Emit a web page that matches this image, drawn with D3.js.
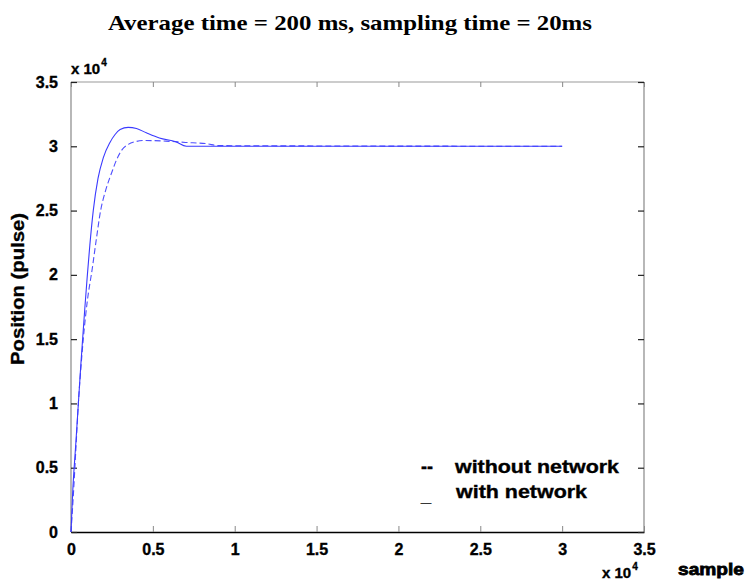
<!DOCTYPE html>
<html><head><meta charset="utf-8">
<script src="https://cdn.jsdelivr.net/npm/d3@7"></script>
<style>body{margin:0;background:#fff}svg{display:block}</style>
</head><body>
<svg id="c" width="746" height="586"></svg>
<script>
const titleText = "Average time = 200 ms, sampling time = 20ms";
const yLabel = "Position (pulse)";
const xLabel = "sample";
const legendLabels = ["without network", "with network"];
const legendMarks = ["--", "_"];
const xTicks = [0, 5000, 10000, 15000, 20000, 25000, 30000, 35000];
const yTicks = [0, 5000, 10000, 15000, 20000, 25000, 30000, 35000];
const tickLabels = ["0", "0.5", "1", "1.5", "2", "2.5", "3", "3.5"];

// with network (solid)
const withX = [0, 100, 300, 450, 600, 710, 850, 1000, 1150, 1360, 1650, 1970, 2380, 2680, 3000, 3490, 4000, 4600, 5400, 6400, 7050, 30000];
const withY = [0, 3000, 7000, 10000, 13000, 15000, 17500, 20000, 22300, 25000, 27500, 29100, 30300, 30900, 31300, 31470, 31380, 31050, 30650, 30350, 30000, 30000];
// without network (dashed)
const woX = [0, 150, 300, 450, 650, 750, 1000, 1300, 1550, 1810, 2100, 2500, 2800, 3100, 3500, 4000, 4500, 5800, 7000, 8300, 9000, 30000];
const woY = [0, 3000, 6500, 10000, 13500, 15000, 18000, 20500, 22800, 25000, 26500, 28000, 29000, 29700, 30150, 30380, 30450, 30400, 30300, 30200, 30050, 30000];

const svg = d3.select("#c");
const L = 71, R = 644, T = 82, B = 532;
const x = d3.scaleLinear().domain([0, 35000]).range([L, R]);
const y = d3.scaleLinear().domain([0, 35000]).range([B, T]);

// title
svg.append("text").attr("x", 350).attr("y", 30).attr("text-anchor", "middle")
  .attr("font-family", "Liberation Serif").attr("font-weight", "bold").attr("font-size", 22)
  .attr("textLength", 484).attr("lengthAdjust", "spacingAndGlyphs").text(titleText);

// frame
svg.append("line").attr("x1", L).attr("x2", L).attr("y1", T).attr("y2", B).attr("stroke", "#888").attr("stroke-width", 1.2);
svg.append("line").attr("x1", R).attr("x2", R).attr("y1", T).attr("y2", B).attr("stroke", "#888").attr("stroke-width", 1.2);
svg.append("line").attr("x1", L).attr("x2", R).attr("y1", T).attr("y2", T).attr("stroke", "#999").attr("stroke-width", 1);

const boldText = (sel, size) => sel.attr("font-family", "Liberation Sans").attr("font-weight", "bold")
  .attr("font-size", size).attr("fill", "#000").attr("stroke", "#000").attr("stroke-width", 0.35);

// axes with inward ticks
const xAx = svg.append("g").attr("transform", `translate(0,${B})`)
  .call(d3.axisBottom(x).tickValues(xTicks).tickFormat((d) => tickLabels[xTicks.indexOf(d)]).tickSizeInner(-6).tickSizeOuter(0).tickPadding(12));
xAx.select(".domain").attr("stroke", "#000").attr("stroke-width", 1.5);
xAx.selectAll(".tick line").attr("stroke", "#888");
boldText(xAx.selectAll(".tick text"), 16);

const xTop = svg.append("g").attr("transform", `translate(0,${T})`)
  .call(d3.axisTop(x).tickValues(xTicks).tickFormat("").tickSizeInner(-5).tickSizeOuter(0));
xTop.select(".domain").remove();
xTop.selectAll(".tick line").attr("stroke", "#888");

const yAx = svg.append("g").attr("transform", `translate(${L},0)`)
  .call(d3.axisLeft(y).tickValues(yTicks).tickFormat((d) => tickLabels[yTicks.indexOf(d)]).tickSizeInner(-6).tickSizeOuter(0).tickPadding(13));
yAx.select(".domain").remove();
yAx.selectAll(".tick line").attr("stroke", "#222").attr("stroke-width", 1.2);
boldText(yAx.selectAll(".tick text"), 16);

const yR = svg.append("g").attr("transform", `translate(${R},0)`)
  .call(d3.axisRight(y).tickValues(yTicks).tickFormat("").tickSizeInner(-6).tickSizeOuter(0));
yR.select(".domain").remove();
yR.selectAll(".tick line").attr("stroke", "#222").attr("stroke-width", 1.2);

// exponent labels
function expo(px, py) {
  const t = boldText(svg.append("text").attr("x", px).attr("y", py), 15);
  t.append("tspan").text("x 10");
  t.append("tspan").attr("font-size", 10).attr("dy", -8).attr("dx", 1).text("4");
}
expo(71, 74);
expo(602, 578);

// axis labels
boldText(svg.append("text").attr("transform", "translate(24,289) rotate(-90)").attr("text-anchor", "middle"), 18)
  .attr("textLength", 152).attr("lengthAdjust", "spacingAndGlyphs").text(yLabel);
boldText(svg.append("text").attr("x", 678).attr("y", 575), 17)
  .attr("textLength", 66).attr("lengthAdjust", "spacingAndGlyphs").attr("stroke-width", 0.8).text(xLabel);

// curves
const line = d3.line().x((d) => x(d[0])).y((d) => y(d[1])).curve(d3.curveMonotoneX);
const woData = woX.map((v, i) => [v, woY[i]]);
const withData = withX.map((v, i) => [v, withY[i]]);
svg.append("path").datum(woData).attr("d", line).attr("fill", "none")
  .attr("stroke", "#4f4fff").attr("stroke-width", 1.1).attr("stroke-dasharray", "6,3");
svg.append("path").datum(withData).attr("d", line).attr("fill", "none")
  .attr("stroke", "#3a3aff").attr("stroke-width", 1.1);

// legend
const lg = [[421, 473, 455, 473, 164], [421, 498, 456, 498, 131]];
lg.forEach((p, i) => {
  boldText(svg.append("text").attr("x", p[0]).attr("y", i === 0 ? p[1] : p[1] + 4), 18).text(legendMarks[i]);
  boldText(svg.append("text").attr("x", p[2]).attr("y", p[3]), 18)
    .attr("textLength", p[4]).attr("lengthAdjust", "spacingAndGlyphs").text(legendLabels[i]);
});
</script>
</body></html>
